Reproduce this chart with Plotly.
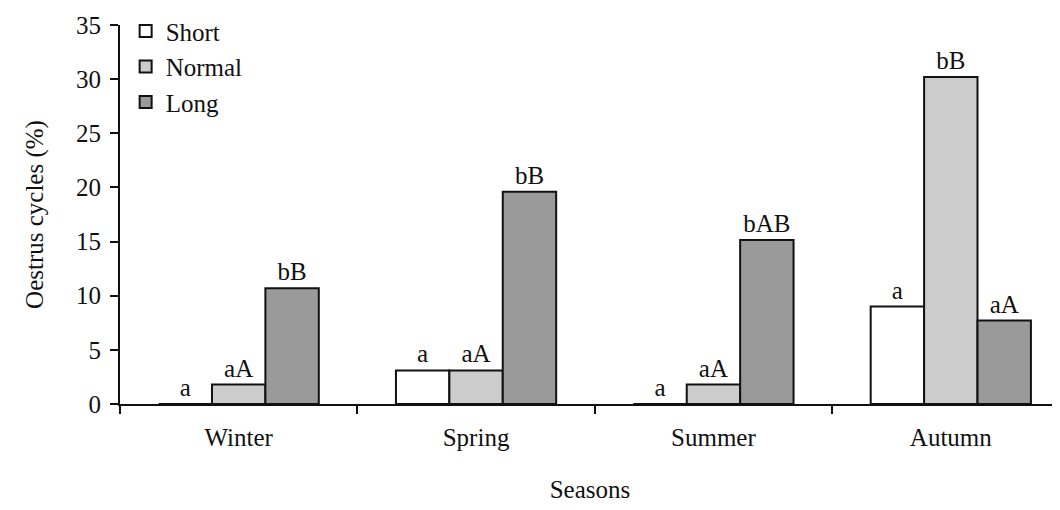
import plotly.graph_objects as go

seasons = ["Winter", "Spring", "Summer", "Autumn"]
short_vals = [0, 3.1, 0, 9.0]
normal_vals = [1.8, 3.1, 1.8, 30.2]
long_vals = [10.7, 19.6, 15.15, 7.7]
short_labels = ["a", "a", "a", "a"]
normal_labels = ["aA", "aA", "aA", "bB"]
long_labels = ["bB", "bB", "bAB", "aA"]

FONT = "Liberation Serif"
FS = 25
fig = go.Figure()
for name, vals, labels, color in [
    ("Short", short_vals, short_labels, "#ffffff"),
    ("Normal", normal_vals, normal_labels, "#cccccc"),
    ("Long", long_vals, long_labels, "#9a9a9a"),
]:
    fig.add_trace(go.Bar(
        name=name, x=seasons, y=vals, text=labels,
        textposition="outside", cliponaxis=False,
        textfont=dict(family=FONT, size=FS, color="#111"),
        marker=dict(color=color, line=dict(color="#111", width=2)),
    ))

fig.update_layout(
    width=1052, height=502,
    margin=dict(l=112, r=0, t=17, b=106),
    paper_bgcolor="white", plot_bgcolor="white",
    barmode="group", bargap=0.325, bargroupgap=0,
    font=dict(family=FONT, size=FS, color="#111"),
    legend=dict(x=0.006, y=1.0445, xanchor="left", yanchor="top",
                font=dict(family=FONT, size=FS), bgcolor="rgba(0,0,0,0)",
                itemwidth=30, tracegroupgap=0),
    xaxis=dict(range=[-0.5, 3.46], showline=True, linecolor="#111", linewidth=2,
               ticks="outside", tickson="boundaries", ticklen=8, tickcolor="#111",
               tickwidth=2, showgrid=False, automargin=False, ticklabelstandoff=10,
               title=dict(text="Seasons", font=dict(size=FS), standoff=30)),
    yaxis=dict(range=[0, 35], dtick=5, showline=True, linecolor="#111", linewidth=2,
               ticks="outside", ticklen=8, tickcolor="#111", tickwidth=2,
               showgrid=False, zeroline=False, automargin=False, ticklabelstandoff=4,
               title=dict(text="Oestrus cycles (%)", font=dict(size=FS), standoff=25)),
)

fig.write_html("out.html")
